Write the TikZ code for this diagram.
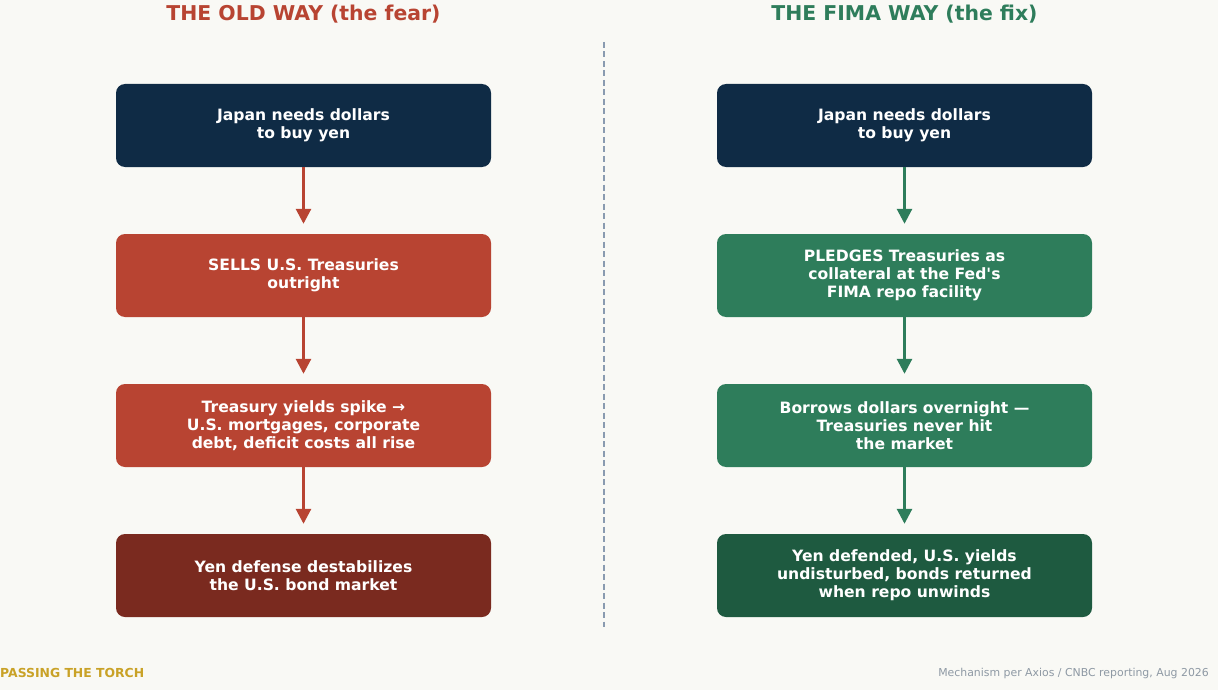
\documentclass[tikz,border=0pt]{standalone}
\usepackage{fontspec}
\setmainfont{DejaVu Sans}
\usetikzlibrary{arrows.meta}
\definecolor{bg}{HTML}{F9F9F5}
\definecolor{navy}{HTML}{0F2B45}
\definecolor{oldred}{HTML}{B84432}
\definecolor{darkred}{HTML}{7A2A1F}
\definecolor{fimagreen}{HTML}{2E7D5B}
\definecolor{darkgreen}{HTML}{1E5A40}
\definecolor{gold}{HTML}{C9A227}
\definecolor{footgray}{HTML}{8E99A4}
\definecolor{divider}{HTML}{8A9BB0}
\begin{document}
\begin{tikzpicture}[x=1pt,y=-1pt,
  box/.style={rounded corners=9pt, minimum width=375pt, minimum height=83pt,
    inner sep=0pt, text=white, align=center,
    font=\fontsize{15.6}{18}\selectfont\bfseries},
  flow/.style={line width=2.8pt, -{Triangle[length=15pt,width=15pt]}, shorten >=10pt},
  title/.style={font=\fontsize{20.4}{23}\selectfont\bfseries}
]
\fill[bg] (0,0) rectangle (1218,690);
\useasboundingbox (0,0) rectangle (1218,690);

\node[title, text=oldred] (t1) at (303.5,14) {THE OLD WAY (the fear)};
\node[title, text=fimagreen] (t2) at (904.5,14) {THE FIMA WAY (the fix)};

\coordinate (dtop) at (604,42);
\coordinate (dbot) at (604,627);
\draw[divider, line width=1.2pt, dash pattern=on 6pt off 3.5pt] (dtop) -- (dbot);

% left column
\node[box, fill=navy] (l1) at (303.5,125.5) {Japan needs dollars\\to buy yen};
\node[box, fill=oldred] (l2) at (303.5,275.5) {SELLS U.S. Treasuries\\outright};
\node[box, fill=oldred] (l3) at (303.5,425.5) {Treasury yields spike →\\U.S. mortgages, corporate\\debt, deficit costs all rise};
\node[box, fill=darkred] (l4) at (303.5,575.5) {Yen defense destabilizes\\the U.S. bond market};

% right column
\node[box, fill=navy] (r1) at (904.5,125.5) {Japan needs dollars\\to buy yen};
\node[box, fill=fimagreen] (r2) at (904.5,275.5) {PLEDGES Treasuries as\\collateral at the Fed\textquotesingle s\\FIMA repo facility};
\node[box, fill=fimagreen] (r3) at (904.5,425.5) {Borrows dollars overnight —\\Treasuries never hit\\the market};
\node[box, fill=darkgreen] (r4) at (904.5,575.5) {Yen defended, U.S. yields\\undisturbed, bonds returned\\when repo unwinds};

\foreach \a/\b in {l1/l2,l2/l3,l3/l4}
  \draw[flow, oldred] (\a.south) -- (\b.north);
\foreach \a/\b in {r1/r2,r2/r3,r3/r4}
  \draw[flow, fimagreen] (\a.south) -- (\b.north);

\node[anchor=west, text=gold, font=\fontsize{12.4}{14}\selectfont\bfseries, inner sep=0pt] (f1) at (0,673) {PASSING THE TORCH};
\node[anchor=east, text=footgray, font=\fontsize{10.9}{12}\selectfont, inner sep=0pt] (f2) at (1209,673) {Mechanism per Axios / CNBC reporting, Aug 2026};
\end{tikzpicture}
\end{document}
